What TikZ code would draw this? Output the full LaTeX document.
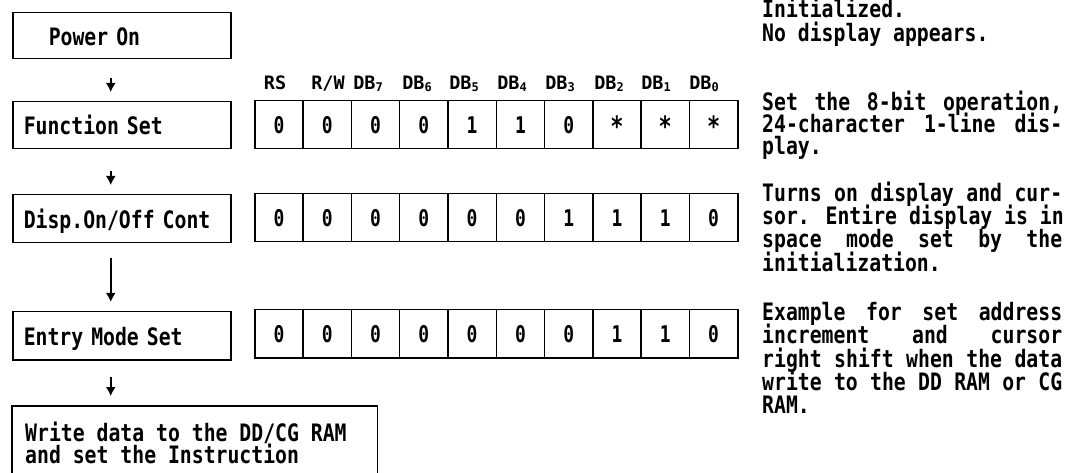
\documentclass[tikz,border=0pt]{standalone}
\usepackage{fontspec}
\usetikzlibrary{arrows.meta}
\newfontfamily\dmbody[FakeStretch=0.824]{DejaVu Sans Mono}
\newfontfamily\dmcell[FakeStretch=0.78]{DejaVu Sans Mono}
\newfontfamily\dmplain{DejaVu Sans Mono}
\newcommand\bodyfont{\dmbody\bfseries\fontsize{24}{24}\selectfont}
\newcommand\cellfont{\dmcell\bfseries\fontsize{23}{23}\selectfont}
\newcommand\headfont{\dmplain\bfseries\fontsize{18.5}{18.5}\selectfont}
\newcommand\sbs[1]{\raisebox{-1.5pt}{\fontsize{12}{12}\selectfont #1}}
\newcommand\bigast{\raisebox{-3pt}{\fontsize{28}{28}\selectfont *}}
\newcommand\jl[1]{\makebox[300pt][s]{\spaceskip=11.9pt plus 1fil\relax #1}}
\begin{document}
\begin{tikzpicture}[x=1pt,y=-1pt,
  lbox/.style={draw, line width=1.5pt, anchor=north west, minimum width=218pt,
    text width=196pt, inner xsep=11pt, inner ysep=0pt, align=left,
    text height=19.5pt, text depth=0pt, font=\bodyfont},
  cell/.style={draw, line width=1.5pt, anchor=north west, minimum width=48.3pt,
    minimum height=48pt, inner sep=0pt, text height=18pt, text depth=0pt, font=\cellfont},
  head/.style={anchor=base, inner sep=0pt, font=\headfont},
  txt/.style={anchor=base west, inner sep=0pt, font=\bodyfont},
  arr/.style={line width=1.6pt, -{Latex[length=9pt,width=10pt]}}
]
\useasboundingbox (0,0) rectangle (1069,473);
% left flow boxes
\node[lbox, minimum height=46pt] (power) at (12,12) {\hspace*{25pt}Power On};
\node[lbox, minimum height=47pt] (func) at (12,101) {Function Set};
\node[lbox, minimum height=48pt] (disp) at (12,194) {Disp.On/Off Cont};
\node[lbox, minimum height=48pt] (entry) at (12,311) {Entry Mode Set};
\node[anchor=north west, minimum width=365pt, minimum height=67pt, inner sep=0pt] (write) at (12,406) {};
\draw[line width=1.5pt] (write.south west) -- (write.north west) -- (write.north east) -- (write.south east);
\node[txt] (w1) at (25,441) {Write data to the DD/CG RAM};
\node[txt] (w2) at (25,463) {and set the Instruction};
% arrows
\draw[arr, shorten <=19pt, shorten >=9pt] ([xshift=-11pt]power.south) -- ([xshift=-11pt]func.north);
\draw[arr, shorten <=22pt, shorten >=9pt] ([xshift=-11pt]func.south) -- ([xshift=-11pt]disp.north);
\draw[arr, line width=2.2pt, shorten <=15pt, shorten >=9pt] ([xshift=-11pt]disp.south) -- ([xshift=-11pt]entry.north);
\draw[arr, shorten <=16pt, shorten >=10pt] ([xshift=-11pt]entry.south) -- ([xshift=-11pt]entry.south |- write.north);
% header
\node[head] (h1) at (275,90) {RS};
\node[head] (h2) at (328,90) {R/W};
\node[head] (h3) at (368,90) {DB\sbs{7}};
\node[head] (h4) at (417,90) {DB\sbs{6}};
\node[head] (h5) at (464,90) {DB\sbs{5}};
\node[head] (h6) at (512,90) {DB\sbs{4}};
\node[head] (h7) at (560,90) {DB\sbs{3}};
\node[head] (h8) at (609,90) {DB\sbs{2}};
\node[head] (h9) at (656,90) {DB\sbs{1}};
\node[head] (h10) at (704,90) {DB\sbs{0}};
% bit cells
\foreach \v [count=\i] in {0,0,0,0,1,1,0,\bigast,\bigast,\bigast}
  \node[cell] (f\i) at ({254+48.3*(\i-1)},100) {\v};
\foreach \v [count=\i] in {0,0,0,0,0,0,1,1,1,0}
  \node[cell] (d\i) at ({254+48.3*(\i-1)},193) {\v};
\foreach \v [count=\i] in {0,0,0,0,0,0,0,1,1,0}
  \node[cell] (e\i) at ({254+48.3*(\i-1)},309) {\v};
% right-hand notes
\node[txt] (r1) at (762,18) {Initialized.};
\node[txt] (r2) at (762,42) {No display appears.};
\node[txt] (r3) at (762,111) {\jl{Set the 8-bit operation,}};
\node[txt] (r4) at (762,133) {\jl{24-character 1-line dis-}};
\node[txt] (r5) at (762,155) {play.};
\node[txt] (r6) at (762,202) {\jl{Turns on display and cur-}};
\node[txt] (r7) at (762,225) {\jl{sor. Entire display is in}};
\node[txt] (r8) at (762,248) {\jl{space mode set by the}};
\node[txt] (r9) at (762,272) {initialization.};
\node[txt] (r10) at (762,320) {\jl{Example for set address}};
\node[txt] (r11) at (762,343) {\jl{increment and cursor}};
\node[txt] (r12) at (762,367) {\jl{right shift when the data}};
\node[txt] (r13) at (762,390) {\jl{write to the DD RAM or CG}};
\node[txt] (r14) at (762,413) {RAM.};
\end{tikzpicture}
\end{document}
